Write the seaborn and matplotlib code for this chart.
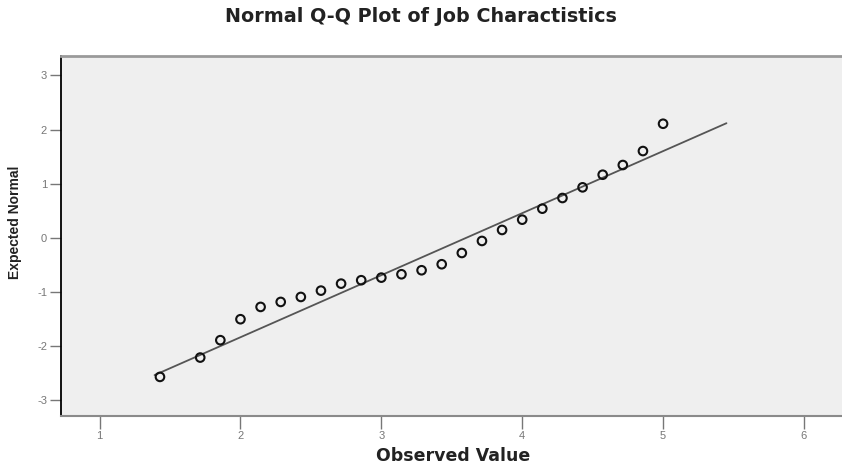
import numpy as np
import pandas as pd
import matplotlib
matplotlib.use("Agg")
import matplotlib.pyplot as plt
import seaborn as sns

# Data
observed = [10/7, 12/7, 13/7, 14/7, 15/7, 16/7, 17/7, 18/7, 19/7, 20/7,
            21/7, 22/7, 23/7, 24/7, 25/7, 26/7, 27/7, 28/7, 29/7, 30/7,
            31/7, 32/7, 33/7, 34/7, 35/7]
expected = [-2.565, -2.208, -1.887, -1.500, -1.273, -1.181, -1.089, -0.972,
            -0.843, -0.780, -0.732, -0.670, -0.596, -0.485, -0.277, -0.055,
            0.148, 0.338, 0.541, 0.738, 0.935, 1.168, 1.347, 1.605, 2.109]
line_x = [1.39, 5.45]
obs_mean = 3.60
obs_sd = 0.873

x_ticks = [1, 2, 3, 4, 5, 6]
y_ticks = [-3, -2, -1, 0, 1, 2, 3]

title = "Normal Q-Q Plot of Job Charactistics"
xlabel = "Observed Value"
ylabel = "Expected Normal"

sns.set_style("white")
plt.rcParams['font.family'] = ['Liberation Sans', 'DejaVu Sans']

pts = pd.DataFrame({"Observed": observed, "Expected": expected})
ref = pd.DataFrame({"x": line_x,
                    "y": [(v - obs_mean) / obs_sd for v in line_x]})

fig = plt.figure(figsize=(8.42, 4.65), dpi=100)
ax = fig.add_axes([61/842, 49/465, 1 - 61/842 + 0.01, (416 - 56)/465])
ax.set_facecolor("#efefef")

sns.lineplot(data=ref, x="x", y="y", ax=ax, color="#555555", linewidth=1.3)
sns.scatterplot(data=pts, x="Observed", y="Expected", ax=ax, marker="o",
                s=38, facecolor="none", edgecolor="#111111", linewidth=1.5,
                zorder=3)

ax.set_xlim(0.726, 6.33)
ax.set_ylim(-3.287, 3.36)
ax.set_xticks(x_ticks)
ax.set_yticks(y_ticks)
ax.set_xticklabels([str(t) for t in x_ticks])
ax.set_yticklabels([str(t) for t in y_ticks])
ax.tick_params(axis="both", direction="out", length=8, width=1,
               colors="#777777", labelsize=8, pad=2, left=True, bottom=True)
ax.tick_params(axis="x", length=9)

ax.spines["left"].set_color("#000000")
ax.spines["left"].set_linewidth(1.3)
ax.spines["bottom"].set_color("#8a8a8a")
ax.spines["bottom"].set_linewidth(1.5)
ax.spines["top"].set_color("#9a9a9a")
ax.spines["top"].set_linewidth(2)
ax.spines["right"].set_visible(False)

ax.set_xlabel(xlabel, fontsize=12.5, fontweight="bold", color="#222222",
              family=['DejaVu Sans'])
ax.xaxis.set_label_coords(0.497, -0.087)
ax.set_ylabel(ylabel, fontsize=10, fontweight="bold", color="#222222",
              family=['Liberation Sans Narrow', 'Liberation Sans'])
ax.yaxis.set_label_coords(-0.050, 0.539)

fig.text(0.5, 1 - 16/465, title, ha="center", va="center", fontsize=13.8,
         fontweight="bold", color="#222222", family=['DejaVu Sans'])

fig.savefig("out.png", dpi=100)
